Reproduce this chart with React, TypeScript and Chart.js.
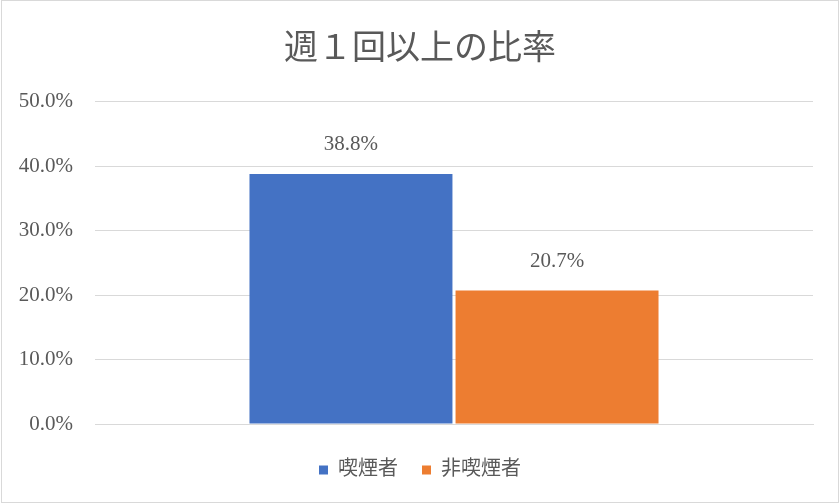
import React, { useEffect, useRef } from 'react';
import { Chart, registerables } from 'chart.js';

Chart.register(...registerables);

const categories = [''];
const seriesNames = ['喫煙者', '非喫煙者'];
const smokers = [38.8];
const nonSmokers = [20.7];
const seriesColors = ['#4472C4', '#ED7D31'];

const SERIF = "'Liberation Serif', 'Noto Sans CJK JP', serif";
const TEXT = '#595959';

const frame = {
  id: 'frame',
  beforeDraw(chart: Chart) {
    const { ctx, width, height } = chart;
    ctx.save();
    ctx.fillStyle = '#ffffff';
    ctx.fillRect(0, 0, width, height);
    ctx.strokeStyle = '#d9d9d9';
    ctx.lineWidth = 1;
    ctx.strokeRect(1.5, 0.5, width - 3, height - 2);
    ctx.restore();
  },
};

const valueLabels = {
  id: 'valueLabels',
  afterDatasetsDraw(chart: Chart) {
    const { ctx } = chart;
    ctx.save();
    ctx.font = `21px ${SERIF}`;
    ctx.fillStyle = TEXT;
    ctx.textAlign = 'center';
    ctx.textBaseline = 'middle';
    chart.data.datasets.forEach((ds, i) => {
      chart.getDatasetMeta(i).data.forEach((bar: any, j) => {
        const v = ds.data[j] as number;
        ctx.fillText(v.toFixed(1) + '%', bar.x, bar.y - 29);
      });
    });
    ctx.restore();
  },
};

const App: React.FC = () => {
  const chartRef = useRef<HTMLCanvasElement>(null);

  useEffect(() => {
    document.body.style.margin = '0';
    if (!chartRef.current) return;
    const ctx = chartRef.current.getContext('2d');
    if (!ctx) return;

    const myChart = new Chart(ctx, {
      type: 'bar',
      data: {
        labels: categories,
        datasets: [
          {
            label: seriesNames[0],
            data: smokers,
            backgroundColor: seriesColors[0],
            categoryPercentage: 0.574,
            barPercentage: 0.985,
          },
          {
            label: seriesNames[1],
            data: nonSmokers,
            backgroundColor: seriesColors[1],
            categoryPercentage: 0.574,
            barPercentage: 0.985,
          },
        ],
      },
      options: {
        animation: false,
        responsive: false,
        layout: { padding: { left: 0, right: 0, top: 0, bottom: 14 } },
        plugins: {
          title: {
            display: true,
            text: '週１回以上の比率',
            color: TEXT,
            font: { family: SERIF, size: 34, weight: 'normal' },
            padding: { top: 30, bottom: 31 },
          },
          legend: {
            position: 'bottom',
            labels: {
              color: TEXT,
              font: { family: SERIF, size: 20 },
              usePointStyle: true,
              pointStyle: 'rect',
              boxWidth: 9,
              boxHeight: 9,
              padding: 24,
            },
          },
          tooltip: { enabled: false },
        },
        scales: {
          x: {
            grid: { display: false, drawTicks: false },
            border: { display: true, color: '#d9d9d9' },
            ticks: { display: false },
            afterFit: (scale: any) => {
              scale.height = 12;
            },
          },
          y: {
            min: 0,
            max: 50,
            ticks: {
              stepSize: 10,
              color: TEXT,
              font: { family: SERIF, size: 21 },
              padding: 22,
              callback: (v: any) => Number(v).toFixed(1) + '%',
            },
            grid: { color: '#d9d9d9', drawTicks: false },
            border: { display: false },
            afterFit: (scale: any) => {
              scale.width = 95;
            },
          },
          // empty right-hand gutter so the title and legend centre on the canvas
          yRight: {
            position: 'right',
            min: 0,
            max: 50,
            grid: { display: false, drawTicks: false },
            border: { display: false },
            ticks: { display: false },
            afterFit: (scale: any) => {
              scale.width = 27;
            },
          },
        },
      },
      plugins: [frame, valueLabels],
    });

    return () => {
      myChart.destroy();
    };
  }, []);

  return (
    <div style={{ width: 840, height: 504 }}>
      <canvas ref={chartRef} width={840} height={504} />
    </div>
  );
};

export default App;
